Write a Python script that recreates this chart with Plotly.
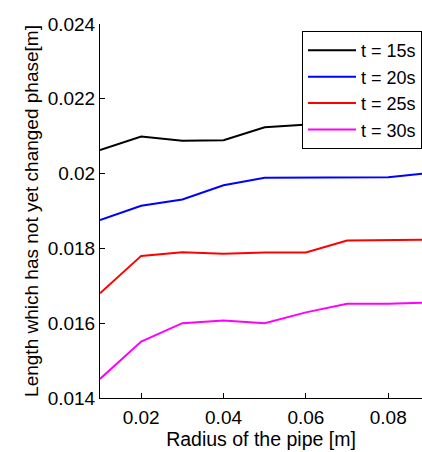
import plotly.graph_objects as go

radius = [0.01, 0.02, 0.03, 0.04, 0.05, 0.06, 0.07, 0.08, 0.09]
t15 = [0.02063, 0.02099, 0.02088, 0.02089, 0.02124, 0.02130, 0.02138, 0.02140, 0.02145]
t20 = [0.01876, 0.01914, 0.01931, 0.01969, 0.01989, 0.01990, 0.01990, 0.01990, 0.02002]
t25 = [0.01680, 0.01780, 0.01790, 0.01786, 0.01789, 0.01789, 0.01821, 0.01822, 0.01823]
t30 = [0.01451, 0.01551, 0.01600, 0.01607, 0.01600, 0.01629, 0.01652, 0.01652, 0.01655]
names = ["t = 15s", "t = 20s", "t = 25s", "t = 30s"]
colors = ["#000000", "#0000ff", "#ff0000", "#ff00ff"]
y_ticks = [0.014, 0.016, 0.018, 0.02, 0.022, 0.024]
y_tick_text = ["0.014", "0.016", "0.018", "0.02", "0.022", "0.024"]
x_ticks = [0.02, 0.04, 0.06, 0.08]
x_tick_text = ["0.02", "0.04", "0.06", "0.08"]

fig = go.Figure()
for name, ys, c in zip(names, [t15, t20, t25, t30], colors):
    fig.add_trace(go.Scatter(x=radius, y=ys, mode="lines", name=name,
                             line=dict(color=c, width=2)))

font = "Liberation Sans, Arial, sans-serif"
fig.update_layout(
    width=422, height=452,
    margin=dict(l=100, r=0, t=24, b=54),
    paper_bgcolor="white", plot_bgcolor="white",
    font=dict(family=font, size=19, color="#000000"),
    showlegend=True,
    legend=dict(x=1.0, y=0.981, xanchor="right", yanchor="top",
                bgcolor="white", bordercolor="#000000", borderwidth=1,
                font=dict(size=18, color="#000000"),
                tracegroupgap=0, itemwidth=48),
    xaxis=dict(range=[0.01, 0.0882], tickvals=x_ticks, ticktext=x_tick_text,
               ticks="inside", ticklen=5, tickcolor="#000000",
               showline=True, linecolor="#000000", linewidth=1,
               showgrid=False, zeroline=False, ticklabelstandoff=2,
               title=dict(text="Radius of the pipe [m]", font=dict(size=19.5), standoff=0),
               tickfont=dict(size=19)),
    yaxis=dict(range=[0.014, 0.024], tickvals=y_ticks, ticktext=y_tick_text,
               ticks="inside", ticklen=5, tickcolor="#000000",
               showline=True, linecolor="#000000", linewidth=1,
               showgrid=False, zeroline=False,
               title=dict(text="Length which has not yet changed phase[m]",
                          font=dict(size=19), standoff=4),
               tickfont=dict(size=19)),
)
fig.write_html("out.html")
